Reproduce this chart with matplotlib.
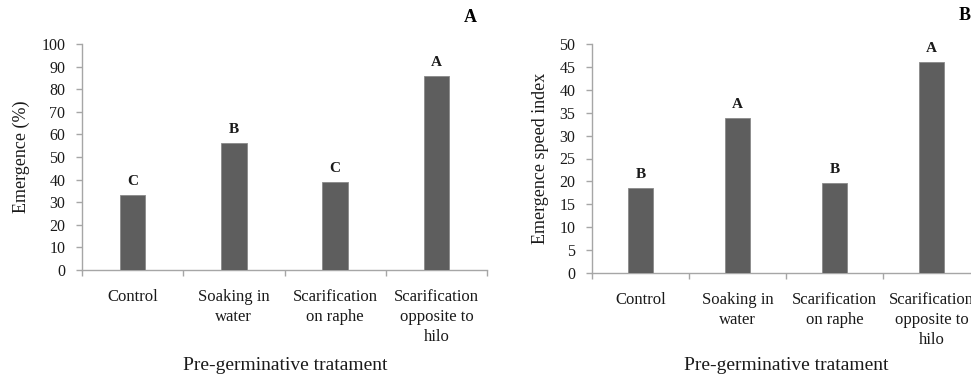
import matplotlib
matplotlib.use("Agg")
import matplotlib.pyplot as plt
import numpy as np

plt.rcParams['font.family'] = ['Liberation Serif', 'DejaVu Serif']

categories = ["Control", "Soaking in\nwater", "Scarification\non raphe", "Scarification\nopposite to\nhilo"]
emergence = [33, 56, 39, 86]
emergence_letters = ["C", "B", "C", "A"]
esi = [18.5, 33.8, 19.6, 46.1]
esi_letters = ["B", "A", "B", "A"]
xlabel_text = "Pre-germinative tratament"

fig = plt.figure(figsize=(9.71, 3.80), dpi=100)
ax1 = fig.add_axes([82/971, 110/380, 405/971, 226/380])
ax2 = fig.add_axes([592/971, 107/380, 388/971, 229/380])

bar_color = "#5e5e5e"
spine_color = "#a6a6a6"
text_color = "#1a1a1a"

def style(ax, vals, letters, ymax, ystep, ylabel, off):
    x = np.arange(len(categories))
    ax.bar(x, vals, width=0.25, color=bar_color, edgecolor="#8a8a8a", linewidth=0.6, zorder=3)
    for xi, v, l in zip(x, vals, letters):
        ax.annotate(l, (xi, v), xytext=(0, off), textcoords="offset points",
                    ha="center", va="bottom", fontsize=11, fontweight="bold", color=text_color)
    ax.set_xlim(-0.5, 3.5)
    ax.set_ylim(0, ymax)
    ax.set_yticks(np.arange(0, ymax + ystep / 2, ystep))
    ax.set_xticks(x)
    ax.set_xticklabels(categories, fontsize=12, color=text_color, linespacing=1.3)
    ax.set_xticks(np.arange(-0.5, 4.0, 1.0), minor=True)
    ax.tick_params(axis="x", which="major", length=0, pad=14)
    ax.tick_params(axis="x", which="minor", length=4, color=spine_color, width=1)
    ax.tick_params(axis="y", length=4, color=spine_color, width=1, pad=8, labelsize=11.5, labelcolor=text_color)
    for s in ["top", "right"]:
        ax.spines[s].set_visible(False)
    for s in ["left", "bottom"]:
        ax.spines[s].set_color(spine_color)
        ax.spines[s].set_linewidth(1)
    ax.set_ylabel(ylabel, fontsize=13, color=text_color)

style(ax1, emergence, emergence_letters, 100, 10, "Emergence (%)", 5)
style(ax2, esi, esi_letters, 50, 5, "Emergence speed index", 5)
ax1.yaxis.set_label_coords(-0.128, 0.5)
ax2.yaxis.set_label_coords(-0.112, 0.5)

fig.text(285/971, 1 - 365/380, xlabel_text, ha="center", va="center", fontsize=14, color=text_color)
fig.text(786/971, 1 - 366/380, xlabel_text, ha="center", va="center", fontsize=14, color=text_color)

fig.text(470/971, 1 - 17/380, "A", ha="center", va="center", fontsize=13, fontweight="bold", color="#000000")
fig.text(959/971, 1 - 15/380, "B", ha="left", va="center", fontsize=13, fontweight="bold", color="#000000")

fig.savefig("out.png", dpi=100)
